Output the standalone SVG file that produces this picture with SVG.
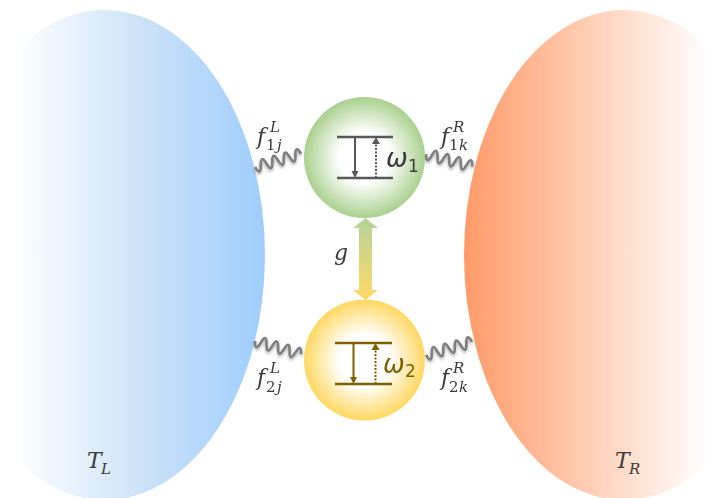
<svg xmlns="http://www.w3.org/2000/svg" xmlns:xlink="http://www.w3.org/1999/xlink" width="708" height="498" viewBox="0 0 708 498">
<style>
text{font-family:"DejaVu Serif","Liberation Serif",serif;font-style:italic;fill:#3a3a3a}
.b{font-size:22px}.s{font-size:15px}.n{font-style:normal}
.w{font-family:"DejaVu Sans",sans-serif;font-size:26px}
.sub{font-family:"DejaVu Sans",sans-serif;font-style:normal;font-size:17px}
.sq{fill:none;stroke:#808080;stroke-width:2.800}
.lv{stroke-width:2.500;fill:none}
.dk{stroke:#595959}.br{stroke:#7f6000}
.ar{stroke-width:2;fill:none}
.dot{stroke-dasharray:2 1.500}
</style>
<defs>
<linearGradient id="gl" gradientUnits="userSpaceOnUse" x1="12" y1="0" x2="265" y2="0"><stop offset="0" stop-color="#fff"/><stop offset="0.55" stop-color="#c9e0f8"/><stop offset="1" stop-color="#9fcdfd"/></linearGradient>
<linearGradient id="gr" gradientUnits="userSpaceOnUse" x1="464" y1="0" x2="708" y2="0"><stop offset="0" stop-color="#ff9a68"/><stop offset="1" stop-color="#fff"/></linearGradient>
<linearGradient id="ga" gradientUnits="userSpaceOnUse" x1="0" y1="218" x2="0" y2="300"><stop offset="0" stop-color="#b5d29a"/><stop offset="1" stop-color="#ffd966"/></linearGradient>
<radialGradient id="c1"><stop offset="0.42" stop-color="#fff"/><stop offset="1" stop-color="#a9d08e"/></radialGradient>
<radialGradient id="c2"><stop offset="0.42" stop-color="#fff"/><stop offset="1" stop-color="#ffd761"/></radialGradient>
<filter id="sh" x="-20%" y="-100%" width="140%" height="300%"><feGaussianBlur in="SourceAlpha" stdDeviation="1.500"/><feOffset dy="2"/><feComponentTransfer><feFuncA type="linear" slope="0.3"/></feComponentTransfer><feMerge><feMergeNode/><feMergeNode in="SourceGraphic"/></feMerge></filter>
<path id="wv" class="sq" d="M0 0q3 11 6 0t6 0t6 0t6 0t6 0t6 0t6 0t6 0"/>
</defs>
<g id="bath-left"><ellipse cx="105" cy="255" rx="160" ry="245" fill="url(#gl)"/><text class="b" x="87" y="468">T</text><text class="s" x="101" y="474">L</text></g>
<g id="bath-right"><ellipse cx="624" cy="255" rx="160" ry="245" fill="url(#gr)"/><text class="b" x="615" y="468">T</text><text class="s" x="629" y="474">R</text></g>
<g id="connectors" filter="url(#sh)">
<use xlink:href="#wv" href="#wv" transform="translate(255 167) rotate(-16)"/>
<use xlink:href="#wv" href="#wv" transform="translate(426 154) rotate(15)"/>
<use xlink:href="#wv" href="#wv" transform="translate(255 341) rotate(16)"/>
<use xlink:href="#wv" href="#wv" transform="translate(426 355) rotate(-16)"/>
</g>
<g id="coupling"><path d="M359 228H353L365.500 218L378 228H372V290H378L365.500 300L353 290H359z" fill="url(#ga)"/><text x="334" y="260" font-size="22">g</text></g>
<g id="node-1">
<circle cx="364.500" cy="157.500" r="60.500" fill="url(#c1)"/>
<path class="lv dk" d="M337 137H393M337 178H393"/>
<path class="dk ar" d="M355 137V172"/><path d="M351.500 171H358.500L355 178z" fill="#595959"/>
<path class="dk ar dot" d="M376 178V143"/><path d="M372 144H380L376 137z" fill="#595959"/>
<text class="w" x="386" y="167">ω</text><text class="sub" x="408" y="172">1</text>
</g>
<g id="node-2">
<circle cx="364.500" cy="360" r="60.500" fill="url(#c2)"/>
<path class="lv br" d="M335 343H392M335 384H392"/>
<path class="br ar" d="M353.500 343V378"/><path d="M350 377H357L353.500 384z" fill="#7f6000"/>
<path class="br ar dot" d="M375.500 384V349"/><path d="M371.500 350H379.500L375.500 343z" fill="#7f6000"/>
<text class="w" x="383" y="373" style="fill:#7f6000">ω</text><text class="sub" x="405" y="377" style="fill:#7f6000">2</text>
</g>
<g id="labels">
<text class="b" x="257" y="144">f</text><text class="s" x="270" y="132">L</text><text class="s n" x="266" y="150">1</text><text class="s" x="277" y="150">j</text>
<text class="b" x="441" y="144">f</text><text class="s" x="453" y="132">R</text><text class="s n" x="449" y="150">1</text><text class="s" x="459" y="150">k</text>
<text class="b" x="257" y="385">f</text><text class="s" x="270" y="373">L</text><text class="s n" x="266" y="392">2</text><text class="s" x="277" y="392">j</text>
<text class="b" x="441" y="385">f</text><text class="s" x="453" y="373">R</text><text class="s n" x="449" y="392">2</text><text class="s" x="459" y="392">k</text>
</g>
</svg>
